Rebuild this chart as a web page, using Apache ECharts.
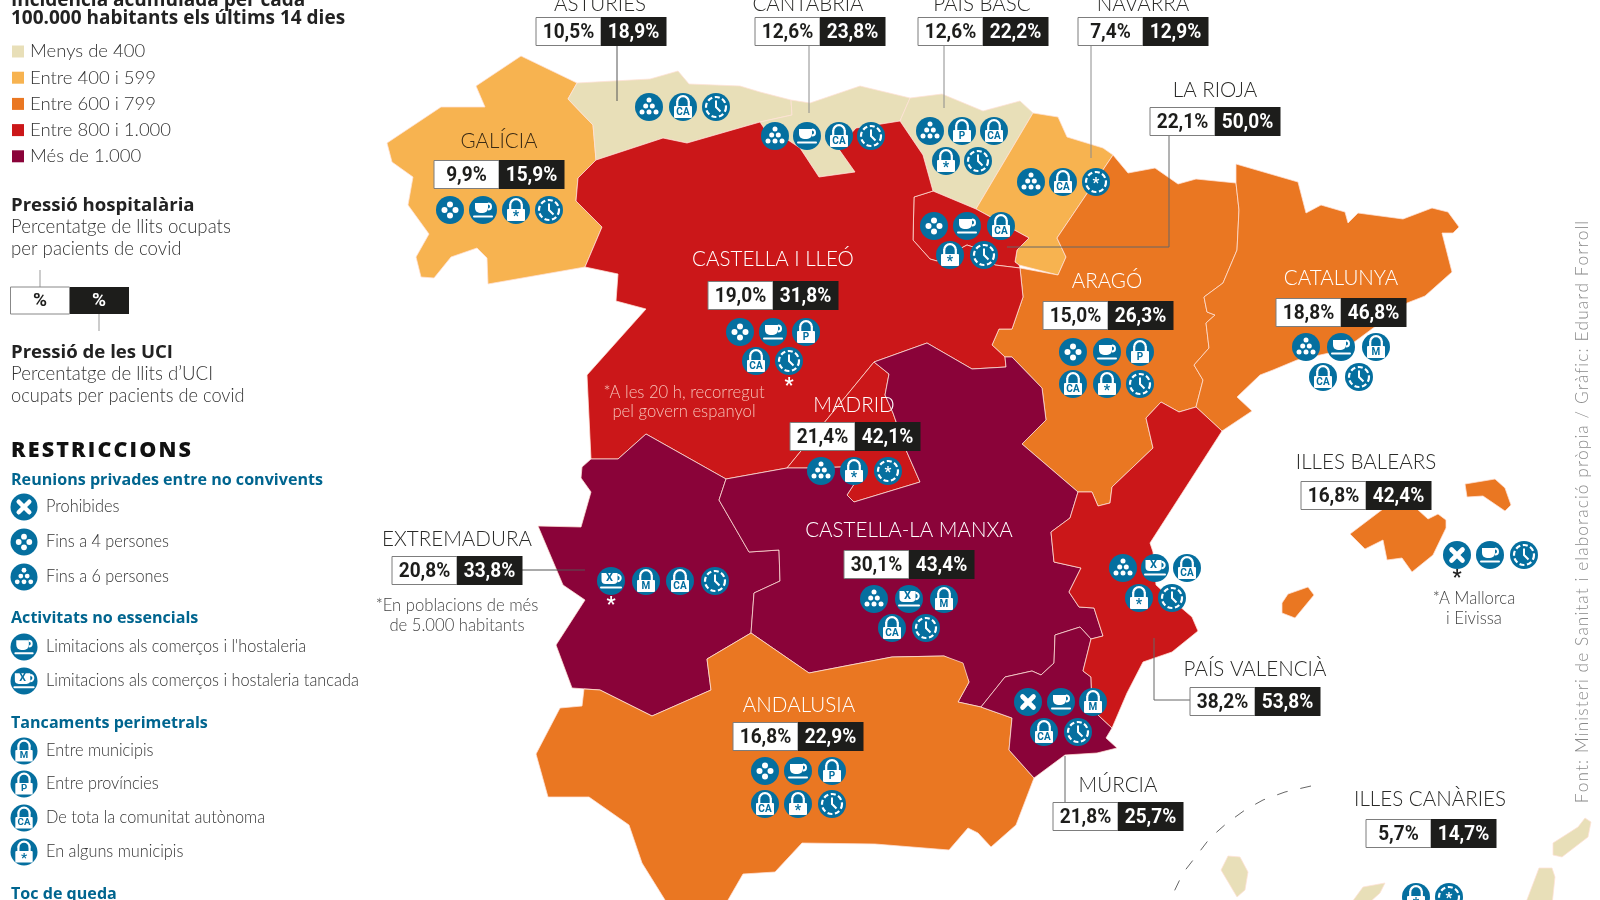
<!DOCTYPE html>
<html lang="ca">
<head>
<meta charset="utf-8">
<title>Restriccions i pressió hospitalària per comunitats</title>
<style>html,body{margin:0;padding:0;background:#fff}#chart{width:1600px;height:900px}</style>
<script src="https://cdn.jsdelivr.net/npm/echarts@6/dist/echarts.min.js"></script>
</head>
<body>
<div id="chart"></div>
<script>
// ---------- DATA ----------
const regionNames = ['GALÍCIA','ASTÚRIES','CANTÀBRIA','PAÍS BASC','NAVARRA','LA RIOJA','ARAGÓ','CATALUNYA','CASTELLA I LLEÓ','MADRID','EXTREMADURA','CASTELLA-LA MANXA','ANDALUSIA','MÚRCIA','PAÍS VALENCIÀ','ILLES BALEARS','ILLES CANÀRIES'];
const hospitalPressure = ['9,9%','10,5%','12,6%','12,6%','7,4%','22,1%','15,0%','18,8%','19,0%','21,4%','20,8%','30,1%','16,8%','21,8%','38,2%','16,8%','5,7%'];
const icuPressure = ['15,9%','18,9%','23,8%','22,2%','12,9%','50,0%','26,3%','46,8%','31,8%','42,1%','33,8%','43,4%','22,9%','25,7%','53,8%','42,4%','14,7%'];
// incidence class: 0 <400, 1 400-599, 2 600-799, 3 800-1000, 4 >1000
const incidenceClass = [1,0,0,0,1,3,2,2,3,3,4,4,2,4,3,2,0];
const incidenceLabels = ['Menys de 400','Entre 400 i 599','Entre 600 i 799','Entre 800 i 1.000','Més de 1.000'];
const restrictions = [
  ['four','cup','lockS','clock'],['six','lockCA','clock'],['six','cup','lockCA','clock'],
  ['six','lockP','lockCA','lockS','clock'],['six','lockCA','clockS'],['four','cup','lockCA','lockS','clock'],
  ['four','cup','lockP','lockCA','lockS','clock'],['six','cup','lockM','lockCA','clock'],['four','cup','lockP','lockCA','clock'],
  ['six','lockS','clockS'],['xp','lockM','lockCA','clock'],['six','xp','lockM','lockCA','clock'],
  ['four','cup','lockP','lockCA','lockS','clock'],['x','cup','lockM','lockCA','clock'],['six','xp','lockCA','lockS','clock'],
  ['x','cup','clock'],['lockS','clockS']
];
const legendGroups = [
  ['Reunions privades entre no convivents',[['x','Prohibides'],['four','Fins a 4 persones'],['six','Fins a 6 persones']]],
  ['Activitats no essencials',[['cup','Limitacions als comerços i l\'hostaleria'],['xp','Limitacions als comerços i hostaleria tancada']]],
  ['Tancaments perimetrals',[['lockM','Entre municipis'],['lockP','Entre províncies'],['lockCA','De tota la comunitat autònoma'],['lockS','En alguns municipis']]],
  ['Toc de queda',[]]
];

// ---------- MAP OUTLINES (map units, y grows southwards) ----------
const shapeGalicia=[[521,56],[577,83],[568,99],[593,125],[596,160],[578,178],[576,201],[602,227],[585,267],[488,284],[487,258],[477,248],[451,257],[434,278],[421,277],[416,257],[429,234],[408,205],[413,177],[392,162],[387,143],[441,107],[485,107],[476,86]];
const shapeAsturies=[[577,83],[650,79],[678,71],[689,84],[740,86],[760,92],[791,100],[792,115],[760,122],[687,143],[663,138],[596,160],[593,125],[568,99]];
const shapeCantabria=[[791,100],[810,103],[860,86],[910,98],[900,121],[856,128],[838,148],[855,172],[819,177],[800,148],[788,140],[772,140],[760,122],[792,115]];
const shapeBasc=[[910,98],[942,94],[983,111],[1020,101],[1033,113],[976,209],[933,191],[923,155],[900,121]];
const shapeNavarra=[[1033,113],[1058,117],[1067,137],[1103,148],[1113,155],[1057,238],[1066,257],[1058,275],[1019,265],[1015,262],[1017,250],[1029,238],[976,209]];
const shapeRioja=[[933,191],[914,197],[913,240],[930,259],[937,261],[967,245],[973,247],[995,265],[1020,268],[1019,265],[1015,262],[1017,250],[1029,238],[976,209]];
const shapeLleo=[[760,122],[772,140],[788,140],[800,148],[819,177],[855,172],[838,148],[856,128],[900,121],[923,155],[933,191],[914,197],[913,240],[930,259],[937,261],[967,245],[973,247],[995,265],[1020,268],[1023,297],[1012,329],[999,329],[992,345],[1005,357],[1006,367],[972,369],[927,343],[874,362],[787,468],[726,479],[646,434],[618,459],[591,459],[587,375],[646,309],[616,301],[618,274],[585,267],[602,227],[576,201],[578,178],[596,160],[663,138],[687,143]];
const shapeMadrid=[[787,468],[874,362],[889,374],[885,395],[893,413],[906,450],[920,482],[854,502],[847,495],[860,475],[842,467],[806,468]];
const shapeExtremadura=[[582,467],[591,459],[618,459],[646,434],[726,479],[719,500],[749,552],[779,550],[780,581],[754,593],[751,633],[707,659],[711,690],[652,716],[600,690],[572,688],[556,645],[585,600],[563,585],[538,526],[581,527],[591,492],[581,478]];
const shapeManxa=[[726,479],[787,468],[806,468],[842,467],[860,475],[847,495],[854,502],[920,482],[906,450],[893,413],[885,395],[889,374],[874,362],[927,343],[972,369],[1006,367],[1005,357],[1012,357],[1042,388],[1046,420],[1022,444],[1078,492],[1070,518],[1051,532],[1054,562],[1081,568],[1069,592],[1079,607],[1094,608],[1103,636],[1091,639],[1080,627],[1055,635],[1054,663],[1041,675],[1032,671],[1005,677],[981,707],[958,702],[969,682],[962,665],[944,656],[892,657],[809,673],[751,633],[754,593],[780,581],[779,550],[749,552],[719,500]];
const shapeArago=[[1113,155],[1128,173],[1155,168],[1178,184],[1196,179],[1236,183],[1239,210],[1237,250],[1223,283],[1204,297],[1207,312],[1215,315],[1206,323],[1209,348],[1194,365],[1203,380],[1196,407],[1179,412],[1161,402],[1146,418],[1153,448],[1112,487],[1110,503],[1098,506],[1092,492],[1078,492],[1022,444],[1046,420],[1042,388],[1012,357],[1005,357],[992,345],[999,329],[1012,329],[1023,297],[1020,268],[1058,275],[1066,257],[1057,238]];
const shapeCatalunya=[[1236,183],[1236,164],[1298,182],[1306,213],[1321,205],[1345,212],[1348,223],[1358,213],[1403,219],[1432,208],[1448,212],[1459,227],[1453,233],[1442,233],[1452,272],[1425,296],[1407,303],[1357,340],[1343,350],[1297,360],[1273,370],[1260,375],[1237,397],[1252,411],[1222,431],[1196,407],[1203,380],[1194,365],[1209,348],[1206,323],[1215,315],[1207,312],[1204,297],[1223,283],[1237,250],[1239,210]];
const shapeValencia=[[1161,402],[1179,412],[1196,407],[1222,431],[1150,543],[1153,552],[1156,585],[1178,605],[1192,617],[1198,631],[1172,652],[1143,662],[1127,693],[1112,728],[1098,715],[1092,707],[1091,677],[1083,671],[1091,639],[1103,636],[1094,608],[1079,607],[1069,592],[1081,568],[1054,562],[1051,532],[1070,518],[1078,492],[1092,492],[1098,506],[1110,503],[1112,487],[1153,448],[1146,418]];
const shapeMurcia=[[1055,635],[1080,627],[1091,639],[1083,671],[1091,677],[1092,707],[1098,715],[1112,728],[1106,738],[1117,748],[1097,753],[1065,755],[1034,778],[1009,750],[1012,718],[981,707],[1005,677],[1032,671],[1041,675],[1054,663]];
const shapeAndalusia=[[751,633],[809,673],[892,657],[944,656],[963,663],[969,682],[958,702],[981,707],[1012,718],[1009,750],[1034,778],[1016,825],[991,847],[978,833],[968,828],[949,850],[875,844],[802,843],[775,872],[743,874],[728,900],[725,910],[670,910],[665,900],[642,863],[629,825],[589,797],[548,797],[536,754],[560,708],[582,706],[584,689],[600,690],[652,716],[711,690],[707,659]];
const shapeMallorca=[[1350,534],[1383,509],[1417,509],[1428,519],[1438,514],[1446,520],[1446,528],[1433,555],[1412,572],[1402,558],[1387,560],[1383,540],[1365,549]];
const shapeMenorca=[[1465,484],[1495,479],[1505,488],[1511,505],[1505,511],[1483,496],[1467,497]];
const shapeEivissa=[[1288,594],[1308,587],[1314,595],[1295,618],[1282,613],[1282,603]];
const shapeCanaryA=[[1228,856],[1240,857],[1248,872],[1245,890],[1237,897],[1221,870]];
const shapeCanaryB=[[1352,902],[1363,887],[1385,883],[1380,893],[1370,902]];
const shapeCanaryC=[[1553,843],[1578,827],[1585,818],[1591,822],[1588,837],[1562,857],[1553,855]];
const shapeCanaryD=[[1539,868],[1552,868],[1555,877],[1552,905],[1525,905]];
const regionShapes=[[shapeGalicia],[shapeAsturies],[shapeCantabria],[shapeBasc],[shapeNavarra],[shapeRioja],[shapeArago],[shapeCatalunya],[shapeLleo],[shapeMadrid],[shapeExtremadura],[shapeManxa],[shapeAndalusia],[shapeMurcia],[shapeValencia],[shapeMallorca,shapeMenorca,shapeEivissa],[shapeCanaryA,shapeCanaryB,shapeCanaryC,shapeCanaryD]];

// ---------- LAYOUT ----------
const [INK,BLUE,HEAD,GREY]=['#2a2a28','#056f9f','#00658f','#8c8c8c'];
const LIGHT='Lato', BOLD='"Open Sans"', NUM='Roboto';
// name centre x, name centre y, split x of the two cells, top of the cells, name colour
const regionLayout=[[499,141,499,160,'#3a2a14'],[600,4,601,17,INK],[808,4,820,17,INK],[982,4,983,17,INK],[1143,4,1143,17,INK],[1215,90,1215,107,INK],[1107,281,1108,301,'#fff'],[1341,278,1341,298,'#fff'],[773,259,773,281,'#fff'],[854,405,855,422,'#fff'],[457,539,457,556,INK],[909,530,909,550,'#fff'],[799,705,798,722,'#fff'],[1118,785,1118,802,INK],[1255,669,1255,687,INK],[1366,462,1366,481,INK],[1430,799,1431,819,INK]];
const iconLayout=[
 [[450,210],[483,210],[516,210],[549,210]],[[649,107],[683,107],[716,107]],[[775,136],[807,136],[839,136],[871,136]],
 [[930,131],[962,131],[994,131],[946,161],[978,161]],[[1031,182],[1063,182],[1096,182]],[[934,226],[967,226],[1001,226],[950,255],[984,255]],
 [[1073,352],[1107,352],[1140,352],[1073,384],[1107,384],[1140,384]],[[1306,347],[1341,347],[1376,347],[1323,377],[1359,377]],[[740,332],[773,332],[806,332],[756,361],[789,361]],
 [[821,471],[854,471],[888,471]],[[611,581],[646,581],[680,581],[715,581]],[[874,599],[909,599],[944,599],[892,628],[926,628]],
 [[765,771],[798,771],[832,771],[765,804],[798,804],[832,804]],[[1028,702],[1061,702],[1093,702],[1044,732],[1078,732]],[[1123,568],[1155,568],[1187,568],[1139,598],[1172,598]],
 [[1457,555],[1490,555],[1524,555]],[[1416,897],[1449,897]]
];
const leaderPaths=[
 [[617,45],[617,101],'#555'],[[809,45],[809,113],GREY],[[944,45],[944,108],GREY],[[1091,45],[1091,158],GREY],
 [[1169,135],[1169,247],[1007,247],'#666'],[[522,570],[585,570],'#555'],[[1065,756],[1065,802],'#666'],[[1154,638],[1154,700],[1190,700],'#666']
];
const arcPath=[[1311,786],[1285,792],[1263,800],[1245,810],[1227,823],[1210,838],[1197,855],[1183,873],[1171,898]];
const legendSlots=[[507,542,577],[647,681],[751,784,818,852],[]];
const legendHeadY=[480,618,723,894];

const geoJson={type:'FeatureCollection',features:regionNames.map((n,i)=>({type:'Feature',properties:{name:n},geometry:{type:'MultiPolygon',coordinates:regionShapes[i].map(r=>[r.concat([r[0]]).map(p=>[p[0],-p[1]])])}}))};
echarts.registerMap('spain',geoJson);

// ---------- GLYPHS ----------
function line(x1,y1,x2,y2,w,col){return{type:'line',shape:{x1,y1,x2,y2},style:{stroke:col||'#fff',lineWidth:w,lineCap:'round',fill:null}};}
function dot(x,y,r){return{type:'circle',shape:{cx:x,cy:y,r},style:{fill:'#fff'}};}
function glyph(kind){
 if(kind==='x')return[line(-5.5,-5.5,5.5,5.5,4.6),line(-5.5,5.5,5.5,-5.5,4.6)];
 if(kind==='four')return[dot(0,-5.5,3),dot(-5.5,0,3),dot(5.5,0,3),dot(0,5.5,3)];
 if(kind==='six')return[dot(0,-7,2.5),dot(-3.3,-1,2.5),dot(3.3,-1,2.5),dot(-7,5,2.5),dot(0,5,2.5),dot(7,5,2.5)];
 if(kind==='cup')return[{type:'rect',shape:{x:-8,y:-7,width:13,height:10,r:[0,0,5,5]},style:{fill:'#fff'}},{type:'arc',shape:{cx:5,cy:-3.5,r:3,startAngle:-1.6,endAngle:1.6},style:{stroke:'#fff',lineWidth:2,fill:null}},line(-9,6.5,9,6.5,2)];
 if(kind==='xp')return[{type:'rect',shape:{x:-9.5,y:-8,width:16,height:11,r:[0,0,4,4]},style:{fill:'#fff'}},{type:'arc',shape:{cx:6.5,cy:-3,r:3.2,startAngle:-1.6,endAngle:1.6},style:{stroke:'#fff',lineWidth:2,fill:null}},{type:'text',style:{text:'X',x:-1.5,y:-2.5,align:'center',verticalAlign:'middle',font:'bold 11px Roboto',fill:BLUE}},line(-10,6.5,10,6.5,2)];
 if(kind.indexOf('lock')===0){
  const t={lockM:'M',lockP:'P',lockCA:'CA',lockS:'*'}[kind];
  return[{type:'arc',shape:{cx:0,cy:-5,r:5.8,startAngle:Math.PI,endAngle:Math.PI*2},style:{stroke:'#fff',lineWidth:2.2,fill:null}},line(-5.8,-5,-5.8,-1,2.2),line(5.8,-5,5.8,-1,2.2),{type:'rect',shape:{x:-9,y:-1,width:18,height:12,r:1},style:{fill:'#fff'}},{type:'text',style:{text:t,x:0,y:t==='*'?7:5.2,align:'center',verticalAlign:'middle',font:'bold '+(t==='*'?14:10)+'px Roboto',fill:BLUE}}];
 }
 const ring={type:'circle',shape:{cx:0,cy:0,r:10},style:{stroke:'#fff',lineWidth:2.2,lineDash:[5,2.6],fill:null}};
 if(kind==='clockS')return[ring,{type:'text',style:{text:'*',x:0,y:2,align:'center',verticalAlign:'middle',font:'bold 15px Roboto',fill:'#fff'}}];
 return[ring,{type:'polyline',shape:{points:[[0,-6.5],[0,0],[4.5,4.5]]},style:{stroke:'#fff',lineWidth:2,fill:null}}];
}
function icon(kind,x,y,r){
 return{type:'group',x,y,scaleX:r/14,scaleY:r/14,children:[{type:'circle',shape:{cx:0,cy:0,r:14},style:{fill:BLUE}}].concat(glyph(kind))};
}
const iconData=[];
restrictions.forEach((list,i)=>list.forEach((k,j)=>iconData.push({value:[iconLayout[i][j][0],-iconLayout[i][j][1],k]})));
const legendIconData=[];
legendGroups.forEach((g,i)=>g[1].forEach((e,j)=>legendIconData.push({value:[24,-legendSlots[i][j],e[0]]})));

// ---------- SIDE TEXT ----------
function txt(text,x,y,font,fill,align,rotation,sx){return{type:'text',z:50,x,y,rotation:rotation||0,scaleX:sx||1,silent:true,style:{text,font,fill,align:align||'left',verticalAlign:'middle'}};}
const graphics=[
 txt('Incidència acumulada per cada',11,1,'700 19px '+BOLD,'#222'),
 txt('100.000 habitants els últims 14 dies',11,19,'700 19px '+BOLD,'#222'),
 txt('Pressió hospitalària',11,206,'700 18.6px '+BOLD,'#222'),
 txt('Percentatge de llits ocupats',11,227,'300 19px '+LIGHT,'#333','left',0,.98),
 txt('per pacients de covid',11,249,'300 19px '+LIGHT,'#333','left',0,.98),
 txt('Pressió de les UCI',11,353,'700 18.6px '+BOLD,'#222'),
 txt('Percentatge de llits d’UCI',11,374,'300 19px '+LIGHT,'#333','left',0,.98),
 txt('ocupats per pacients de covid',11,396,'300 19px '+LIGHT,'#333','left',0,.96),
 {type:'line',z:50,silent:true,shape:{x1:40,y1:270,x2:40,y2:287},style:{stroke:'#999',lineWidth:1}},
 {type:'line',z:50,silent:true,shape:{x1:99,y1:314,x2:99,y2:331},style:{stroke:'#999',lineWidth:1}},
 {type:'rect',z:50,silent:true,shape:{x:10.5,y:287,width:59,height:27},style:{fill:'#fff',stroke:'#888',lineWidth:1}},
 {type:'rect',z:50,silent:true,shape:{x:70,y:287,width:59,height:27},style:{fill:'#1d1d1b'}},
 txt('%',40,301,'700 19px '+NUM,'#1d1d1b','center'),
 txt('%',99,301,'700 19px '+NUM,'#fff','center'),
 txt('RESTRICCIONS'.split('').join('\u200a'),11,451,'800 21.5px '+BOLD,'#111'),
 txt('Font: Ministeri de Sanitat i elaboració pròpia / Gràfic: Eduard Forroll'.split('').join('\u200a'),1582,512,'300 17.3px '+LIGHT,'#8a8a8a','center',Math.PI/2)
];
legendGroups.forEach((g,i)=>{
 graphics.push(txt(g[0],11,legendHeadY[i],'700 16.1px '+BOLD,HEAD));
 g[1].forEach((e,j)=>graphics.push(txt(e[1],46,legendSlots[i][j],'300 17px '+LIGHT,'#333','left',0,.96)));
});
const noteLines=[
 ['*A les 20 h, recorregut',684,393,'#f6c2b8'],['pel govern espanyol',684,412,'#f6c2b8'],
 ['*En poblacions de més',457,606,'#444'],['de 5.000 habitants',457,626,'#444'],
 ['*A Mallorca',1474,599,'#444'],['i Eivissa',1474,619,'#444']
];
noteLines.forEach(n=>graphics.push(txt(n[0],n[1],n[2],'300 17px '+LIGHT,n[3],'center',0,.98)));
[[789,384,'#fff'],[611,603,'#fff'],[1457,576,'#222']].forEach(s=>graphics.push(txt('*',s[0],s[1]+3,'700 20px '+NUM,s[2],'center')));

// ---------- CHART ----------
const chart=echarts.init(document.getElementById('chart'),null,{renderer:'canvas'});
chart.setOption({
 animation:false,
 backgroundColor:'#fff',
 geo:{map:'spain',silent:true,roam:false,aspectScale:1,left:0,top:0,right:0,bottom:0,boundingCoords:[[0,0],[1600,-900]],
  itemStyle:{borderColor:'rgba(255,225,215,0.75)',borderWidth:1},label:{show:false},emphasis:{disabled:true},select:{disabled:true}},
 visualMap:{type:'piecewise',seriesIndex:0,left:12,top:42,padding:0,orient:'vertical',inverse:true,itemWidth:12,itemHeight:12,itemGap:7.2,itemSymbol:'rect',textGap:6,selectedMode:false,hoverLink:false,
  pieces:incidenceLabels.map((l,i)=>({value:i,label:l,color:['#e8dfb8','#f7b350','#ea7722','#cb1719','#8a0339'][i]})),
  textStyle:{fontFamily:LIGHT,fontWeight:300,fontSize:18.5,color:'#333'},showLabel:true},
 graphic:{elements:graphics},
 series:[
  {type:'map',geoIndex:0,silent:true,data:regionNames.map((n,i)=>({name:n,value:incidenceClass[i]}))},
  {type:'lines',coordinateSystem:'geo',polyline:true,silent:true,z:3,
   data:leaderPaths.map(p=>({coords:p.slice(0,-1).map(q=>[q[0],-q[1]]),lineStyle:{color:p[p.length-1],width:1,opacity:1}}))},
  {type:'lines',coordinateSystem:'geo',polyline:true,silent:true,z:3,
   data:[{coords:arcPath.map(q=>[q[0],-q[1]])}],lineStyle:{color:'#666',width:1,type:[11,13],opacity:1}},
  {type:'custom',coordinateSystem:'geo',silent:true,z:5,clip:false,
   data:regionNames.map((n,i)=>[regionLayout[i][2],-regionLayout[i][3],i]),
   renderItem(p,api){
    const i=api.value(2),c=api.coord([api.value(0),api.value(1)]),l=regionLayout[i];
    const o=api.coord([l[0],-l[1]]);
    return{type:'group',children:[
     {type:'text',x:o[0],y:o[1],scaleX:.935,style:{text:regionNames[i],x:0,y:0,align:'center',verticalAlign:'middle',font:'300 22px '+LIGHT,fill:l[4]}},
     {type:'rect',shape:{x:c[0]-65,y:c[1]+.5,width:65,height:28},style:{fill:'#fff',stroke:'#7d7d7d',lineWidth:1}},
     {type:'rect',shape:{x:c[0],y:c[1],width:65.5,height:29},style:{fill:'#1d1d1b'}},
     {type:'text',x:c[0]-32.5,y:c[1]+16,scaleX:.93,style:{text:hospitalPressure[i],x:0,y:0,align:'center',verticalAlign:'middle',font:'700 20.5px '+NUM,fill:'#1d1d1b'}},
     {type:'text',x:c[0]+32.5,y:c[1]+16,scaleX:.93,style:{text:icuPressure[i],x:0,y:0,align:'center',verticalAlign:'middle',font:'700 20.5px '+NUM,fill:'#fff'}}
    ]};
   }},
  {type:'custom',coordinateSystem:'geo',silent:true,z:6,clip:false,dimensions:['x','y',{name:'k',type:'ordinal'}],
   data:iconData,
   renderItem(p,api){const c=api.coord([api.value(0),api.value(1)]);return icon(iconData[p.dataIndex].value[2],c[0],c[1],14);}},
  {type:'custom',coordinateSystem:'geo',silent:true,z:6,clip:false,dimensions:['x','y',{name:'k',type:'ordinal'}],
   data:legendIconData,
   renderItem(p,api){const c=api.coord([api.value(0),api.value(1)]);return icon(legendIconData[p.dataIndex].value[2],c[0],c[1],13.5);}}
 ]
});
</script>
</body>
</html>
